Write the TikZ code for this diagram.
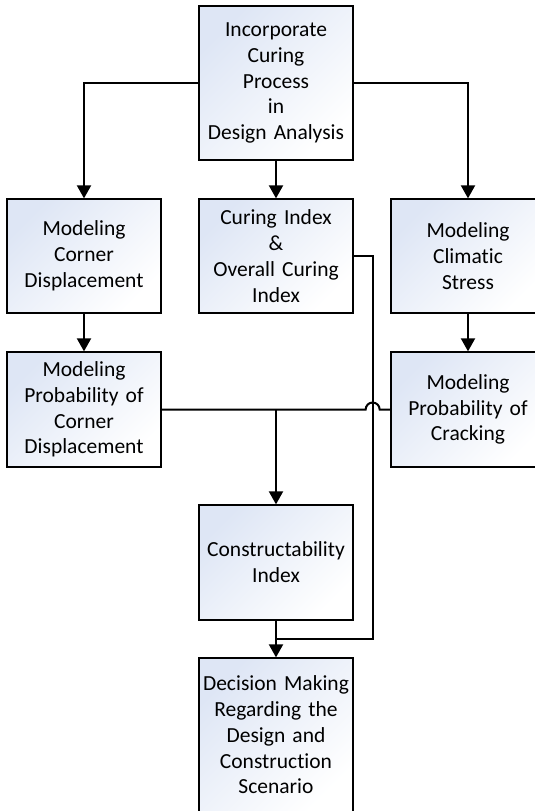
\documentclass[tikz,border=0pt]{standalone}
\usepackage{fontspec}
\setmainfont{Carlito}[Ligatures=NoCommon]
\usetikzlibrary{arrows.meta,calc}
\definecolor{boxtop}{RGB}{222,230,245}

\begin{document}
\begin{tikzpicture}[
	x=1pt, y=-1pt,
	box/.style={draw, line width=1.3pt, shading=axis, top color=boxtop, bottom color=white,
		shading angle=45, text width=150pt, inner xsep=2pt, align=center,
		font=\fontsize{21.5}{25.8}\selectfont},
	link/.style={line width=2pt, -{Triangle[width=14pt,length=13pt]}},
	plain/.style={line width=2pt}]
\useasboundingbox (0,0) rectangle (535,811);
\node[box, minimum height=154pt] (inc) at (276,83) {Incorporate\\Curing\\Process\\in\\Design Analysis};
\node[box, minimum height=114pt] (cd) at (84,256) {Modeling\\Corner\\Displacement};
\node[box, minimum height=114pt] (ci) at (276,256) {Curing Index\\\&\\Overall Curing\\Index};
\node[box, minimum height=114pt] (cs) at (468,256) {Modeling\\Climatic\\Stress};
\node[box, minimum height=115pt] (pcd) at (84,409.5) {Modeling\\Probability of\\Corner\\Displacement};
\node[box, minimum height=115pt] (pc) at (468,409.5) {Modeling\\Probability of\\Cracking};
\node[box, minimum height=115pt] (cons) at (276,562.5) {Constructability\\Index};
\node[box, minimum height=154pt] (dec) at (276,735) {Decision Making\\Regarding the\\Design and\\Construction\\Scenario};
\coordinate (ri) at ([xshift=19pt]ci.east);
\coordinate (hop) at (ri |- pcd.east);
\coordinate (jn) at ($(cons.south)!0.5!(dec.north)$);

\draw[link] (inc.west) -| (cd.north);
\draw[link] (inc.east) -| (cs.north);
\draw[link] (inc.south) -- (ci.north);
\draw[link] (cd.south) -- (pcd.north);
\draw[link] (cs.south) -- (pc.north);
\draw[plain] (pcd.east) -- ([xshift=-7pt]hop) arc[start angle=180, end angle=360, radius=7] -- (pc.west);
\draw[link] (cons.north |- pcd.east) -- (cons.north);
\draw[plain] (ci.east) -- (ri) |- (jn);
\draw[link] (cons.south) -- (dec.north);
\end{tikzpicture}
\end{document}
